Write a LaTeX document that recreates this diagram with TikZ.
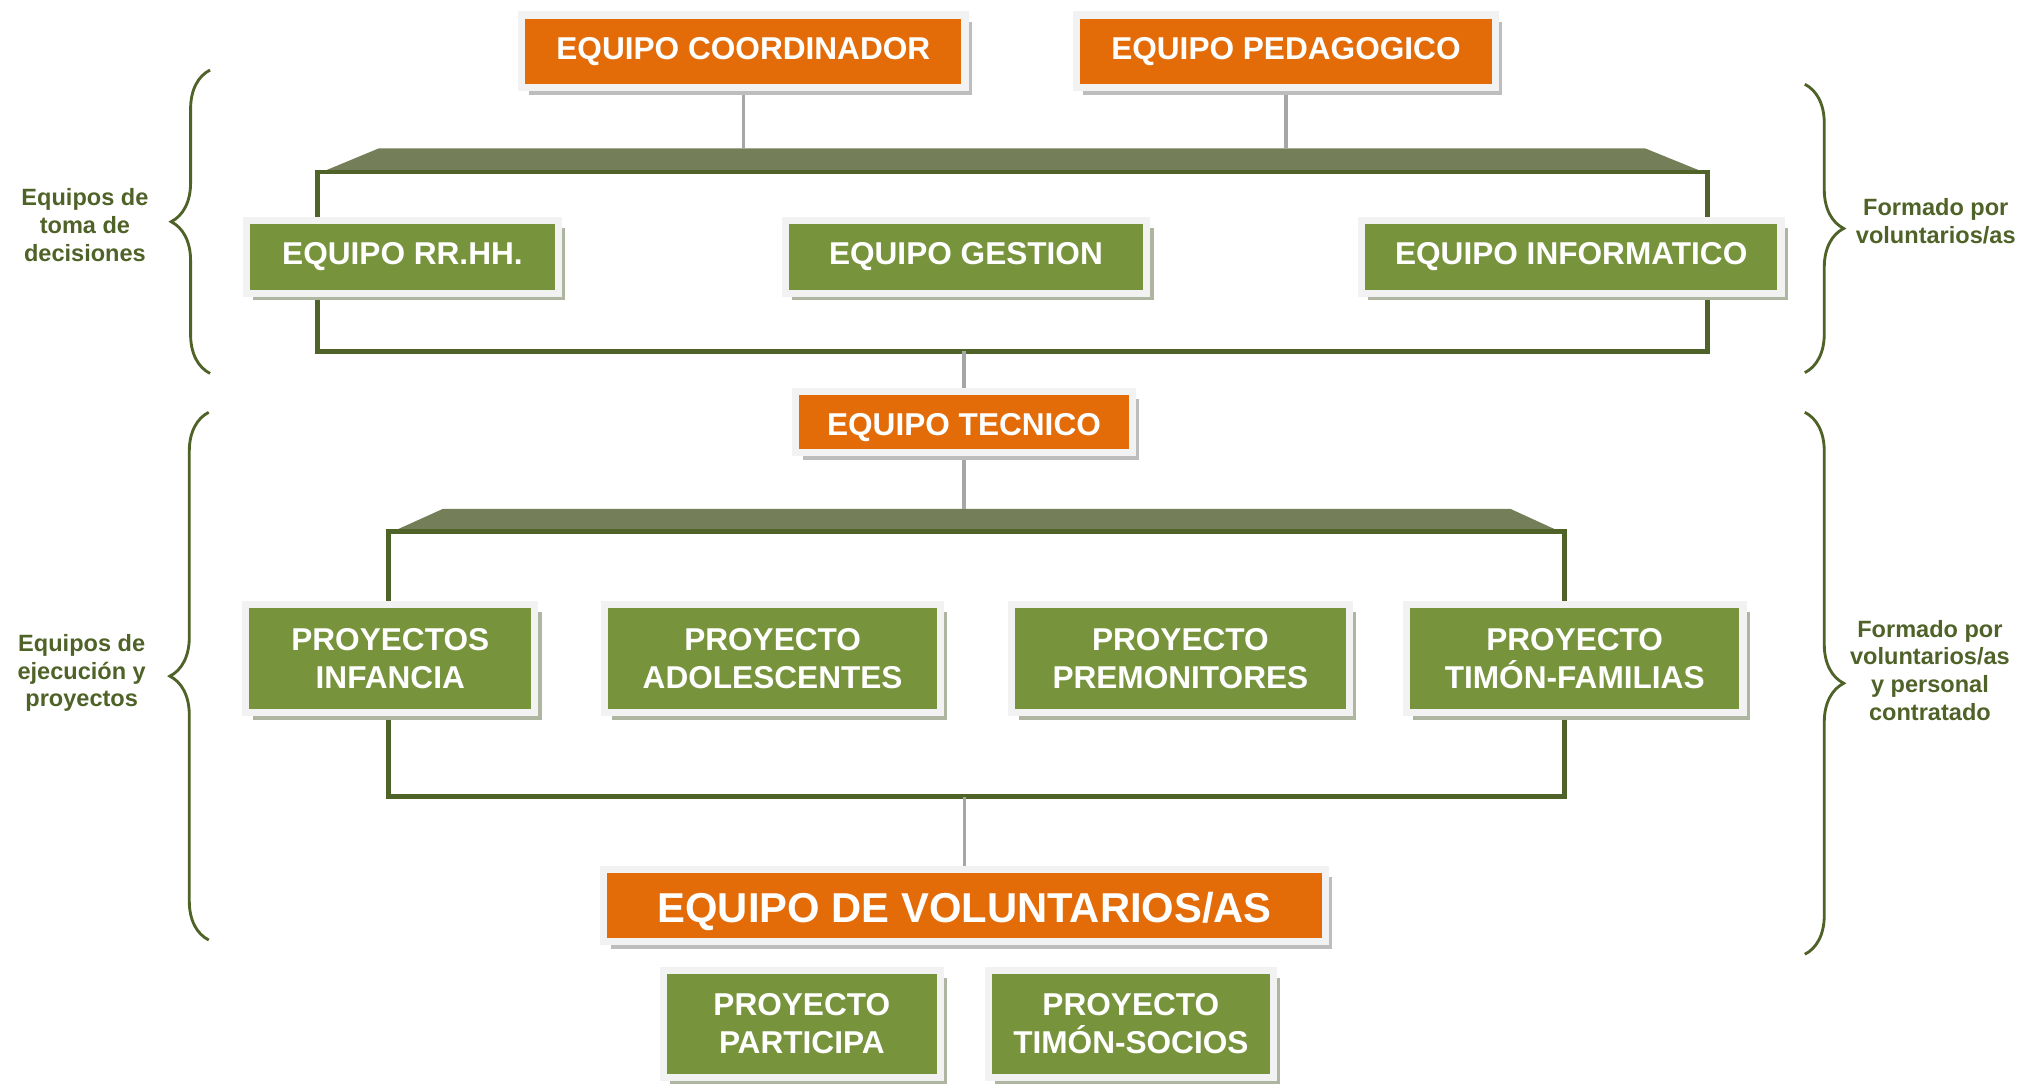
\documentclass[tikz,border=0pt]{standalone}
\usepackage{fontspec}
\setmainfont{Liberation Sans}
\usepackage{xcolor}
\definecolor{orangebox}{HTML}{E36C09}
\definecolor{greenbox}{HTML}{77933C}
\definecolor{darkolive}{HTML}{4F6228}
\definecolor{barolive}{HTML}{747F5A}
\definecolor{framegray}{HTML}{F2F2F2}
\definecolor{linkgray}{HTML}{A6A6A6}
\definecolor{shadegray}{HTML}{BDBDBD}
\definecolor{shadegreen}{HTML}{AEB5A0}
\usepackage{tikz}
\usetikzlibrary{shadows,backgrounds,decorations.pathreplacing}
\tikzset{
  team/.style   = {rectangle, draw=framegray, line width=1.65mm, inner sep=0pt,
                   text=white, align=center, minimum height=16.7mm,
                   font=\fontsize{20.8}{24.6}\selectfont\bfseries},
  oteam/.style  = {team, fill=orangebox,
                   drop shadow={shadow xshift=1.6mm, shadow yshift=-1.7mm,
                                fill=shadegray, opacity=1}},
  gteam/.style  = {team, fill=greenbox,
                   drop shadow={shadow xshift=1.6mm, shadow yshift=-1.7mm,
                                fill=shadegreen, opacity=1}},
  proj/.style   = {gteam, minimum height=25.05mm},
  side/.style   = {text=darkolive, align=center,
                   font=\fontsize{15.5}{18.3}\selectfont\bfseries},
  sidebrace/.style = {draw=darkolive, line width=0.66mm,
                   decorate, decoration={brace, amplitude=9mm}},
  bracket/.style = {draw=darkolive, line width=1.05mm},
  barfill/.style = {fill=barolive},
  link/.style   = {draw=linkgray, line width=0.75mm}
}

\begin{document}
\begin{tikzpicture}[x=0.03cm, y=-0.03cm]
  \useasboundingbox (0,0) rectangle (1568,840);

  \node[oteam, minimum width=102.6mm] (coord) at (573.3,39.4) {EQUIPO COORDINADOR};
  \node[oteam, minimum width=96.9mm] (pedag) at (991.8,39.4) {EQUIPO PEDAGOGICO};

  \node[gteam, minimum width=72.2mm] (rrhh) at (310.4,198.2) {EQUIPO RR.HH.};
  \node[gteam, minimum width=83.6mm] (gestion) at (745,198.2) {EQUIPO GESTION};
  \node[gteam, minimum width=97.1mm] (informatico) at (1211.8,198.2) {EQUIPO INFORMATICO};

  \node[oteam, minimum width=77.9mm, minimum height=14.25mm] (tecnico) at (743.5,325.5)
    {\raisebox{-1.35mm}[\height][\depth]{EQUIPO TECNICO}};

  \node[proj, minimum width=66.8mm] (infancia) at (301,508) {PROYECTOS\\INFANCIA};
  \node[proj, minimum width=77.6mm] (adolesc) at (595.9,508) {PROYECTO\\ADOLESCENTES};
  \node[proj, minimum width=78.1mm] (premon) at (910.4,508) {PROYECTO\\PREMONITORES};
  \node[proj, minimum width=77.9mm] (familias) at (1214.5,508) {PROYECTO\\TIMÓN-FAMILIAS};

  \node[oteam, minimum width=167mm, minimum height=16.65mm,
        font=\fontsize{27.5}{32}\selectfont\bfseries] (volunt) at (744,698.5)
    {\raisebox{-1.3mm}[\height][\depth]{EQUIPO DE VOLUNTARIOS/AS}};

  \node[proj, minimum width=64mm, minimum height=24.75mm] (participa) at (618.4,789.5) {PROYECTO\\PARTICIPA};
  \node[proj, minimum width=66mm, minimum height=24.75mm] (socios) at (872.2,789.5) {PROYECTO\\TIMÓN-SOCIOS};

  \coordinate (tb-top) at (781,114.5);
  \coordinate (tb-bot) at (781,271);
  \coordinate (mb-top) at (753,392.5);
  \coordinate (mb-bot) at (753,614.5);

  \begin{scope}[on background layer]
    \fill[barfill] (245,134) -- (292,114.5) -- (1269,114.5) -- (1317,134) -- cycle;
    \draw[bracket] (245,132.5) rectangle (1317,271);
    \fill[barfill] (299.5,411.5) -- (341.5,392.5) -- (1165,392.5) -- (1206.5,411.5) -- cycle;
    \draw[bracket] (299.5,410) rectangle (1206.5,614.5);
    \foreach \a/\b in {coord/tb-top,pedag/tb-top,tecnico/tb-bot,tecnico/mb-top,volunt/mb-bot}
      \draw[link] (\a) -- (\a |- \b);
  \end{scope}

  \draw[sidebrace] (162,288) -- (162,54);
  \draw[sidebrace] (161,725) -- (161,318);
  \draw[sidebrace] (1392,65) -- (1392,287.4);
  \draw[sidebrace] (1392,318) -- (1392,736);

  \node[side] (lbl-toma) at (65.5,173.6) {Equipos de\\toma de\\decisiones};
  \node[side] (lbl-ejec) at (63,519) {Equipos de\\ejecución y\\proyectos};
  \node[side] (lbl-vol) at (1493,170.7) {Formado por\\voluntarios/as};
  \node[side] (lbl-mixto) at (1488.5,517) {Formado por\\voluntarios/as\\y personal\\contratado};
\end{tikzpicture}
\end{document}
